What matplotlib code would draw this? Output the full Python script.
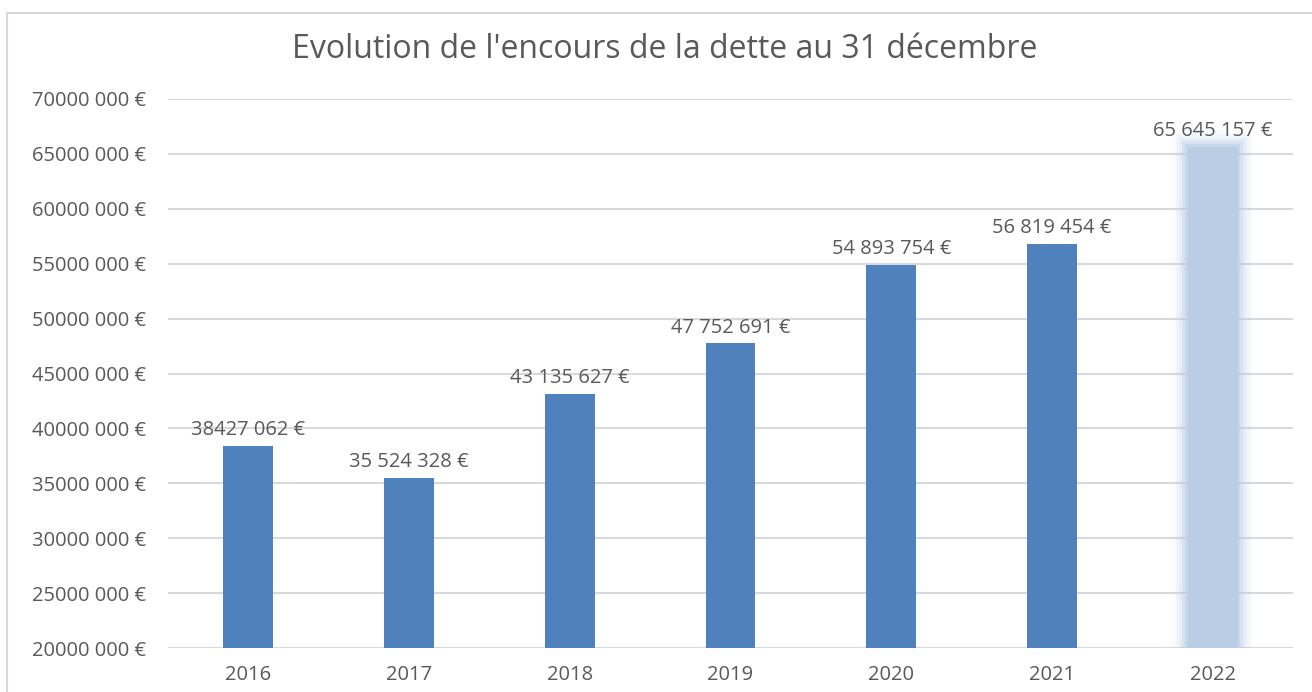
import matplotlib.pyplot as plt
from matplotlib.patches import Rectangle

annees = ["2016", "2017", "2018", "2019", "2020", "2021", "2022"]
encours = [38427062, 35524328, 43135627, 47752691, 54893754, 56819454, 65645157]
etiquettes = ["38427 062 €", "35 524 328 €", "43 135 627 €", "47 752 691 €",
              "54 893 754 €", "56 819 454 €", "65 645 157 €"]
graduations = list(range(20000000, 70000001, 5000000))

plt.rcParams["font.family"] = ["Open Sans", "DejaVu Sans"]
gris = "#595959"

fig = plt.figure(figsize=(13.12, 6.92), dpi=100)
# cadre du graphique
fig.patches.append(Rectangle((7 / 1312, -0.1), 1.2, 1 - 13 / 692 + 0.1,
                             transform=fig.transFigure, fill=False,
                             edgecolor="#D9D9D9", linewidth=1.5))
ax = fig.add_axes([168 / 1312, 44 / 692, 1125 / 1312, 549 / 692])

x = list(range(len(annees)))
largeur = 0.31
ax.bar(x[:-1], encours[:-1], width=largeur, bottom=0, color="#4F81BD", zorder=3)

# derniere barre floue (prevision)
for w, a in [(0.5, 0.08), (0.46, 0.12), (0.42, 0.2), (0.38, 0.3), (0.34, 0.5)]:
    ax.bar(x[-1], encours[-1] + 1.2e6 * (w - 0.31) / 0.16, width=w,
           color="#B9CDE5", alpha=a, zorder=3, linewidth=0)
ax.bar(x[-1], encours[-1], width=largeur, color="#B9CDE5", zorder=3)

for xi, v, lab in zip(x, encours, etiquettes):
    ax.annotate(lab, (xi, v), xytext=(0, 4), textcoords="offset points",
                ha="center", va="bottom", fontsize=14.5, color=gris, zorder=4)

ax.set_xlim(-0.5, len(annees) - 0.5)
ax.set_ylim(20000000, 70000000)
ax.set_yticks(graduations)
ax.set_yticklabels([f"{v // 1000} 000 €" for v in graduations])
ax.set_xticks(x)
ax.set_xticklabels(annees)
ax.tick_params(axis="y", length=0, pad=16, labelsize=14.5, labelcolor=gris)
ax.tick_params(axis="x", length=0, pad=12, labelsize=14.5, labelcolor=gris)
ax.grid(axis="y", color="#D9D9D9", linewidth=1.5, zorder=0)
ax.set_axisbelow(True)
for s in ax.spines.values():
    s.set_visible(False)

fig.text(665 / 1312, 1 - 50 / 692, "Evolution de l'encours de la dette au 31 décembre",
         ha="center", va="center", fontsize=23, color=gris)

fig.savefig("out.png", dpi=100)
